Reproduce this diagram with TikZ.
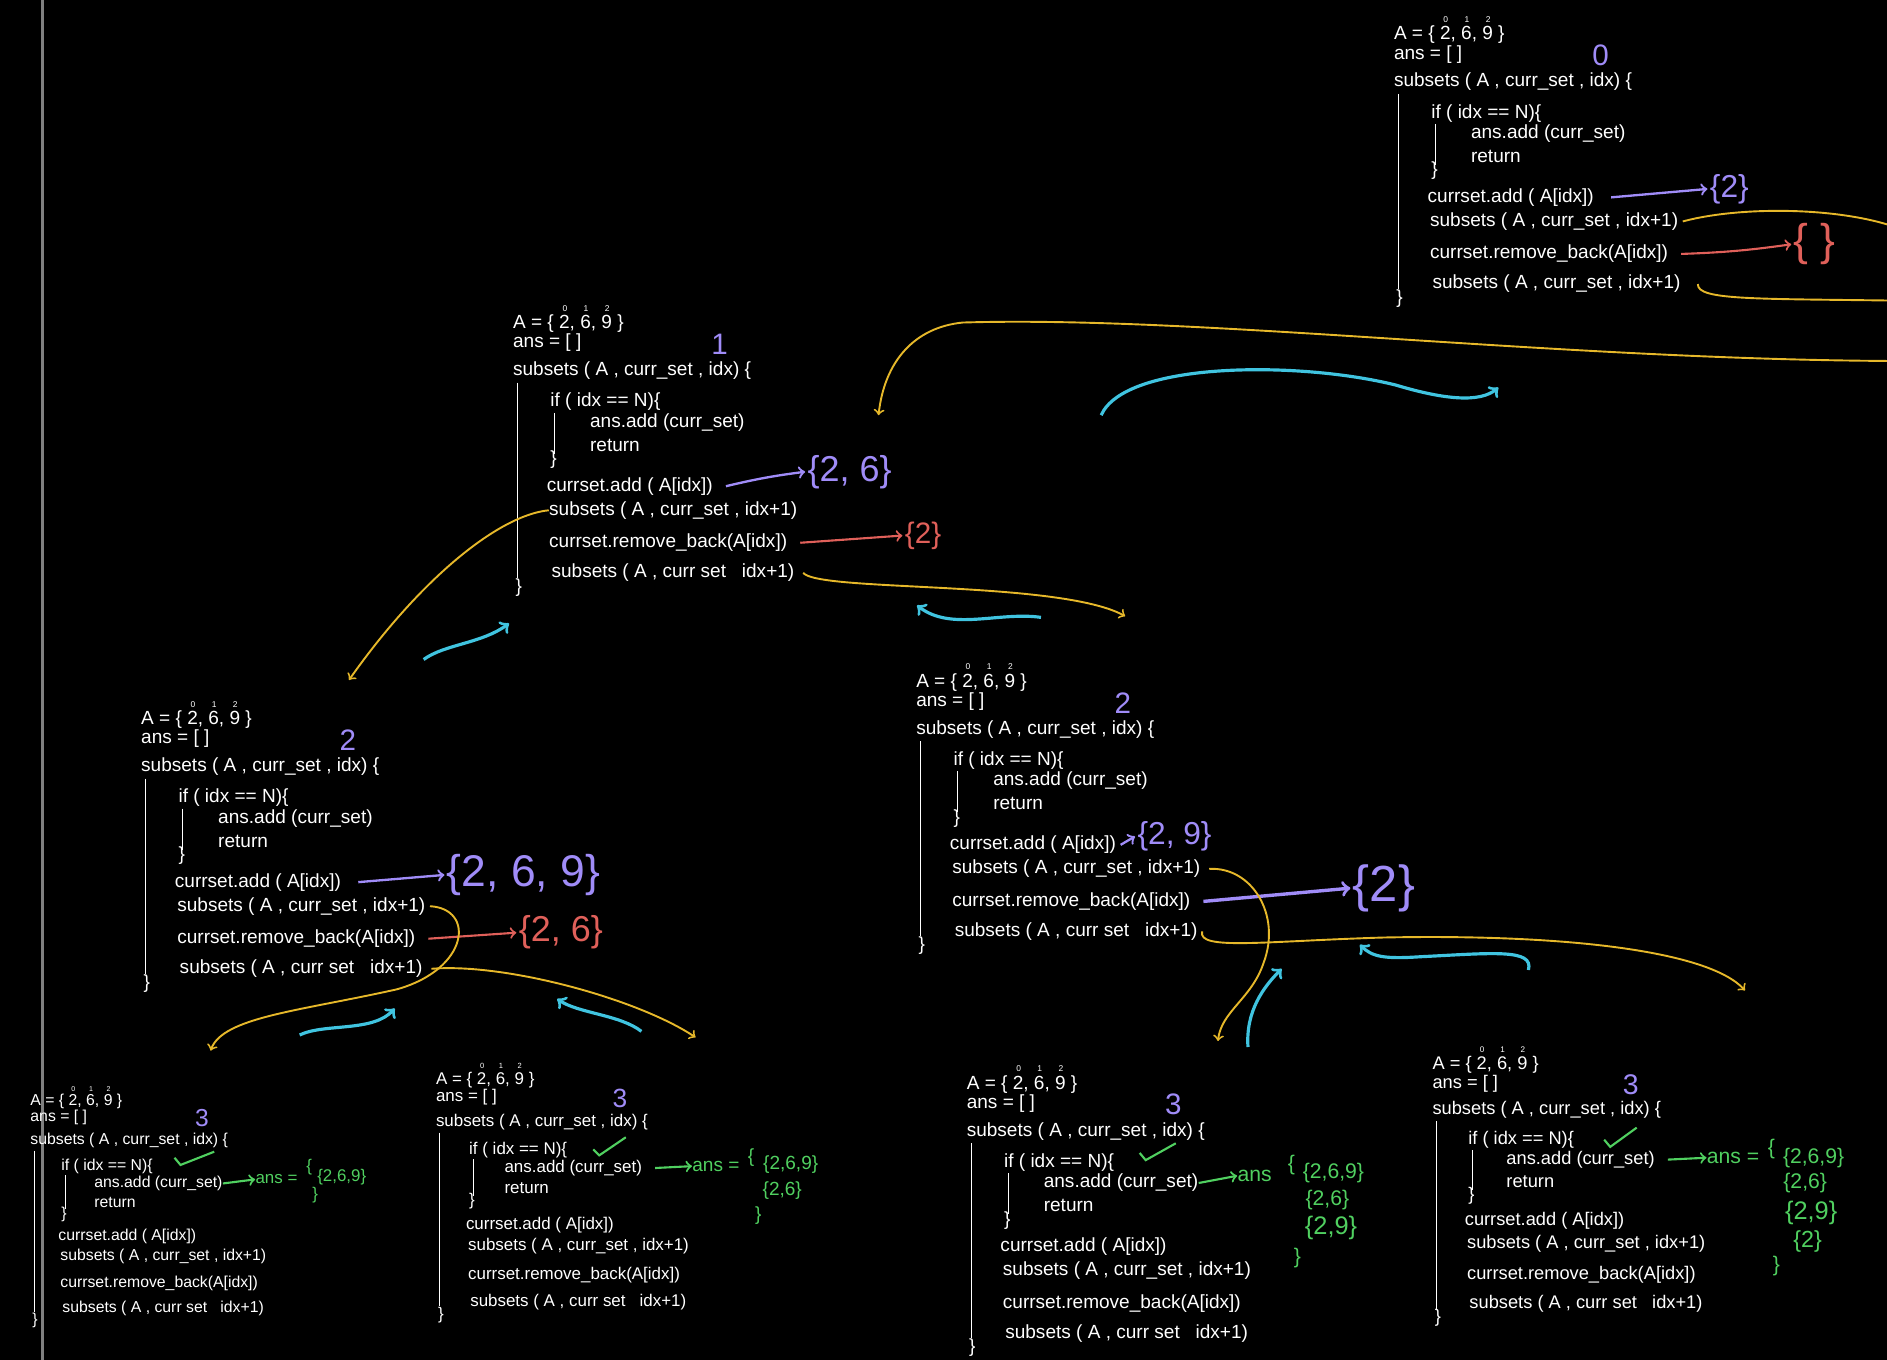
\documentclass[tikz,border=0pt]{standalone}
\usepackage{fontspec}
\setmainfont{Liberation Sans}

\definecolor{penpurple}{HTML}{A08CF8}
\definecolor{penred}{HTML}{E0605A}
\definecolor{penyellow}{HTML}{E6B82A}
\definecolor{pencyan}{HTML}{40C4E0}
\definecolor{pengreen}{HTML}{50D060}
\definecolor{screenline}{HTML}{808080}

% digit with its array index written above it
\newcommand{\ixd}[2]{\makebox[0pt][l]{\raisebox{1.75ex}{\hspace{0.18em}\fontsize{4}{4}\selectfont #1}}#2}
\newcommand{\Aset}{A = \{ \ixd{0}{2}, \ixd{1}{6}, \ixd{2}{9} \}}

% one call of subsets(): name, x, y, scale, idx, last line
\newcommand{\callblock}[6]{%
  \begin{scope}[shift={(#2,#3)}, scale=#4, transform shape]
    \node[code] (#1-A) at (0,0) {\Aset};
    \node[code] (#1-ans) at (0,20) {ans = [ ]};
    \node[code] (#1-sig) at (0,43) {subsets ( A , curr\_set , idx) \{};
    \node[code] (#1-if) at (31,69) {if ( idx == N)\{};
    \node[code] (#1-push) at (64,86) {ans.add (curr\_set)};
    \node[code] (#1-ret) at (64,105) {return};
    \node[code] (#1-ifend) at (31,117) {\}};
    \node[code] (#1-add) at (28,139) {currset.add ( A[idx])};
    \node[code] (#1-rec1) at (30,159) {subsets ( A , curr\_set , idx+1)};
    \node[code] (#1-rem) at (30,186) {currset.remove\_back(A[idx])};
    \node[code] (#1-rec2) at (32,211) {#6};
    \node[code] (#1-end) at (2,223) {\}};
    \node[idxnum] (#1-idx) at (172,21) {#5};
    \draw[bar] (4,53) -- (4,215);
    \draw[bar] (35,78) -- (35,112);
  \end{scope}}

\begin{document}
\begin{tikzpicture}[x=0.02cm, y=-0.02cm,
    code/.style={anchor=west, inner sep=0pt, text=white, font=\fontsize{9}{10}\selectfont},
    idxnum/.style={text=penpurple, inner sep=0pt, font=\fontsize{14}{14}\selectfont},
    bar/.style={white, line width=0.5pt},
    setnode/.style={inner sep=1pt},
    addarrow/.style={->, penpurple, line width=1.1pt},
    remarrow/.style={->, penred, line width=1pt},
    callline/.style={penyellow, line width=0.9pt},
    retline/.style={->, pencyan, line width=1.5pt},
    ansnote/.style={text=pengreen, inner sep=0pt},
    ansarrow/.style={->, pengreen, line width=1pt},
    tick/.style={pengreen, line width=1pt}]
  \useasboundingbox (0,0) rectangle (1568,1130);
  \clip (0,0) rectangle (1568,1130);
  \fill[black] (0,0) rectangle (1568,1130);
  \draw[screenline, line width=1.5pt] (35,0) -- (35,1130);

  % the calls
  \callblock{b0}{1158}{25}{1}{0}{subsets ( A , curr\_set , idx+1)}
  \callblock{b1}{426}{265}{1}{1}{subsets ( A , curr set \ \ idx+1)}
  \callblock{b2a}{117}{594}{1}{2}{subsets ( A , curr set \ \ idx+1)}
  \callblock{b2b}{761}{563}{1}{2}{subsets ( A , curr set \ \ idx+1)}
  \callblock{b3a}{25}{912}{0.83}{3}{subsets ( A , curr set \ \ idx+1)}
  \callblock{b3b}{362}{894}{0.89}{3}{subsets ( A , curr set \ \ idx+1)}
  \callblock{b3c}{803}{897}{1}{3}{subsets ( A , curr set \ \ idx+1)}
  \callblock{b3d}{1190}{881}{0.96}{3}{subsets ( A , curr set \ \ idx+1)}

  % idx = 0
  \node[setnode, text=penpurple, font=\fontsize{15}{15}\selectfont] (s0add) at (1437,157) {\{2\}};
  \node[setnode, text=penred, font=\fontsize{21}{21}\selectfont] (s0rem) at (1508,203) {\{ \}};
  \draw[addarrow] ([xshift=8pt]b0-add.east) -- (s0add.west);
  \draw[remarrow] ([xshift=6pt]b0-rem.east) to[bend right=3] (s0rem.west);
  \coordinate (b0-out1) at (1590,195);
  \coordinate (b0-out2) at (1590,250);
  \coordinate (b0-back) at (1590,300);
  \coordinate (b1-in) at (730,345);
  \draw[callline] ([xshift=2pt]b0-rec1.east) .. controls (1450,170) and (1545,172) .. (b0-out1);
  \draw[callline] ([xshift=8pt]b0-rec2.east) .. controls (1410,250) and (1460,248) .. (b0-out2);
  \draw[callline, ->] (b0-back) .. controls (1300,300) and (1000,262) .. (800,268) .. controls (760,272) and (735,300) .. (b1-in);
  \coordinate (r0a) at (915,345);
  \coordinate (r0b) at (1245,322);
  \draw[retline] (r0a) .. controls (935,300) and (1080,300) .. (1160,320) .. controls (1200,332) and (1230,335) .. (r0b);

  % idx = 1
  \node[setnode, text=penpurple, font=\fontsize{17}{17}\selectfont] (s1add) at (706,392) {\{2, 6\}};
  \node[setnode, text=penred, font=\fontsize{14}{14}\selectfont] (s1rem) at (767,445) {\{2\}};
  \draw[addarrow] ([xshift=6pt]b1-add.east) to[bend left=3] (s1add.west);
  \draw[remarrow] ([xshift=6pt]b1-rem.east) -- (s1rem.west);
  \coordinate (b2a-in) at (290,565);
  \coordinate (b2b-in) at (935,512);
  \draw[callline, ->] (b1-rec1.west) .. controls (415,428) and (350,480) .. (b2a-in);
  \draw[callline, ->] ([xshift=4pt]b1-rec2.east) .. controls (680,492) and (880,482) .. (b2b-in);
  \coordinate (r1a) at (352,548);
  \coordinate (r1b) at (423,518);
  \coordinate (r1c) at (865,513);
  \coordinate (r1d) at (762,503);
  \draw[retline] (r1a) .. controls (370,535) and (400,535) .. (r1b);
  \draw[retline] (r1c) .. controls (830,508) and (790,525) .. (r1d);

  % idx = 2, left
  \node[setnode, text=penpurple, font=\fontsize{21}{21}\selectfont] (s2aadd) at (435,727) {\{2, 6, 9\}};
  \node[setnode, text=penred, font=\fontsize{17}{17}\selectfont] (s2arem) at (466,775) {\{2, 6\}};
  \draw[addarrow] ([xshift=8pt]b2a-add.east) -- (s2aadd.west);
  \draw[remarrow] ([xshift=6pt]b2a-rem.east) -- (s2arem.west);
  \coordinate (b3a-in) at (175,873);
  \coordinate (b3b-in) at (578,862);
  \draw[callline, ->] ([xshift=2pt]b2a-rec1.east) .. controls (395,755) and (390,805) .. (330,822) .. controls (250,840) and (185,845) .. (b3a-in);
  \draw[callline, ->] ([xshift=4pt]b2a-rec2.east) .. controls (420,800) and (530,830) .. (b3b-in);
  \coordinate (r2a) at (249,860);
  \coordinate (r2b) at (328,838);
  \coordinate (r2c) at (533,857);
  \coordinate (r2d) at (463,830);
  \draw[retline] (r2a) .. controls (270,850) and (310,858) .. (r2b);
  \draw[retline] (r2c) .. controls (515,843) and (480,842) .. (r2d);

  % idx = 2, right
  \node[setnode, text=penpurple, font=\fontsize{15}{15}\selectfont] (s2badd) at (976,695) {\{2, 9\}};
  \node[setnode, text=penpurple, font=\fontsize{24}{24}\selectfont] (s2brem) at (1150,738) {\{2\}};
  \draw[addarrow] ([xshift=2pt]b2b-add.east) -- (s2badd.west);
  \draw[addarrow, line width=1.6pt] ([xshift=6pt]b2b-rem.east) -- (s2brem.west);
  \coordinate (b3c-in) at (1012,865);
  \coordinate (b3d-in) at (1450,823);
  \draw[callline, ->] ([xshift=4pt]b2b-rec1.east) .. controls (1040,720) and (1065,760) .. (1050,800) .. controls (1040,830) and (1015,840) .. (b3c-in);
  \draw[callline, ->] ([xshift=2pt]b2b-rec2.east) .. controls (995,790) and (1050,782) .. (1150,779) .. controls (1300,776) and (1420,790) .. (b3d-in);
  \coordinate (r2e) at (1037,870);
  \coordinate (r2f) at (1065,805);
  \coordinate (r2g) at (1270,806);
  \coordinate (r2h) at (1130,785);
  \draw[retline] (r2e) .. controls (1035,840) and (1050,820) .. (r2f);
  \draw[retline] (r2g) .. controls (1275,788) and (1240,792) .. (1180,795) .. controls (1150,797) and (1140,795) .. (r2h);

  % idx = 3: base case reached
  \draw[tick] (145,962) -- (150,968) -- (178,957);
  \draw[tick] (493,955) -- (498,960) -- (520,945);
  \draw[tick] (947,958) -- (952,964) -- (977,950);
  \draw[tick] (1333,947) -- (1338,953) -- (1360,937);

  \begin{scope}[font=\fontsize{8}{8}\selectfont]
    \node[ansnote, anchor=west] (a3a) at (212,980) {ans =};
    \node[ansnote] (a3a-open) at (257,970) {\{};
    \node[ansnote] (a3a-1) at (284,978) {\{2,6,9\}};
    \node[ansnote] (a3a-close) at (262,993) {\}};
  \end{scope}
  \draw[ansarrow] (b3a-push.east) -- (a3a.west);

  \begin{scope}[font=\fontsize{9}{9}\selectfont]
    \node[ansnote, anchor=west] (a3b) at (575,969) {ans =};
    \node[ansnote] (a3b-open) at (624,962) {\{};
    \node[ansnote] (a3b-1) at (657,968) {\{2,6,9\}};
    \node[ansnote] (a3b-2) at (650,989) {\{2,6\}};
    \node[ansnote] (a3b-close) at (630,1010) {\}};
  \end{scope}
  \draw[ansarrow] ([xshift=6pt]b3b-push.east) -- (a3b.west);

  \begin{scope}[font=\fontsize{10}{10}\selectfont]
    \node[ansnote, anchor=west] (a3c) at (1028,977) {ans};
    \node[ansnote] (a3c-open) at (1073,968) {\{};
    \node[ansnote] (a3c-1) at (1108,975) {\{2,6,9\}};
    \node[ansnote] (a3c-2) at (1103,997) {\{2,6\}};
    \node[ansnote, font=\fontsize{12}{12}\selectfont] (a3c-3) at (1106,1020) {\{2,9\}};
    \node[ansnote] (a3c-close) at (1078,1045) {\}};
  \end{scope}
  \draw[ansarrow] (b3c-push.east) -- (a3c.west);

  \begin{scope}[font=\fontsize{10}{10}\selectfont]
    \node[ansnote, anchor=west] (a3d) at (1418,962) {ans =};
    \node[ansnote] (a3d-open) at (1472,955) {\{};
    \node[ansnote] (a3d-1) at (1507,962) {\{2,6,9\}};
    \node[ansnote] (a3d-2) at (1500,983) {\{2,6\}};
    \node[ansnote, font=\fontsize{12}{12}\selectfont] (a3d-3) at (1505,1008) {\{2,9\}};
    \node[ansnote, font=\fontsize{11}{11}\selectfont] (a3d-4) at (1502,1032) {\{2\}};
    \node[ansnote] (a3d-close) at (1476,1052) {\}};
  \end{scope}
  \draw[ansarrow] ([xshift=6pt]b3d-push.east) -- (a3d.west);
\end{tikzpicture}
\end{document}
